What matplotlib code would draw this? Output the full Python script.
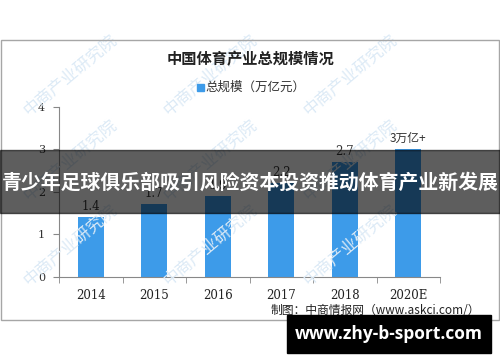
import matplotlib
matplotlib.use("Agg")
import matplotlib.pyplot as plt
from matplotlib.patches import Rectangle

plt.rcParams['font.family'] = ['Noto Sans CJK SC', 'DejaVu Sans']

years = ['2014', '2015', '2016', '2017', '2018', '2020E']
scale = [1.4, 1.7, 1.9, 2.2, 2.7, 3.0]
labels = ['1.4', '1.7', '1.9', '2.2', '2.7', '3万亿+']
yticks = [0, 1, 2, 3, 4]

title = "中国体育产业总规模情况"
legendName = "总规模（万亿元）"
source = "制图：中商情报网（www.askci.com/）"
banner = "青少年足球俱乐部吸引风险资本投资推动体育产业新发展"
site = "www.zhy-b-sport.com"
mark = "中商产业研究院"

W, H = 500, 362
fig = plt.figure(figsize=(W/100, H/100), dpi=100)
fig.patch.set_facecolor('white')

def fx(px):
    return px/W
def fy(py):
    return 1-py/H

# outer frame of the chart picture
fig.patches.append(Rectangle((fx(1), fy(320)), fx(498), (320-40)/H, transform=fig.transFigure,
                             fill=False, edgecolor='#a6a6a6', linewidth=1))

# watermarks (faint)
for wy in [75, 160, 245]:
    for wx in [20, 160, 300]:
        fig.text(fx(wx), fy(wy), mark, rotation=40, color='#dceaf6', fontsize=12,
                 ha='left', va='center', zorder=0)

ax = fig.add_axes([fx(59), fy(276.7), fx(381), 170/H])
ax.set_facecolor('none')
x = range(len(years))
ax.bar(x, scale, width=0.41, color='#3d9be9', zorder=2)
ax.set_xlim(-0.5, len(years)-0.5)
ax.set_ylim(0, 4)
ax.set_yticks(yticks)
ax.set_yticklabels([str(i) for i in yticks], family='DejaVu Serif', fontsize=8, color='#333333')
ax.set_xticks(list(x))
ax.set_xticklabels(years, family='DejaVu Serif', fontsize=8.5, color='#222222')
ax.set_xticks([i-0.5 for i in range(len(years)+1)], minor=True)
ax.tick_params(axis='x', which='major', length=0, pad=9)
ax.tick_params(axis='x', which='minor', length=4, color='#888888')
ax.tick_params(axis='y', length=4, color='#888888', pad=6)
for s in ['top', 'right']:
    ax.spines[s].set_visible(False)
for s in ['left', 'bottom']:
    ax.spines[s].set_color('#888888')

for i in range(len(years)):
    fam = 'DejaVu Serif' if i < len(years)-1 else ['Noto Sans CJK SC', 'DejaVu Sans']
    ax.text(i, scale[i]+0.1, labels[i], ha='center', va='bottom', fontsize=8.5,
            family=fam, color='#333333')

fig.text(fx(251), fy(59), title, ha='center', va='center', fontsize=11, fontweight='bold', color='#222222')
fig.patches.append(Rectangle((fx(197), fy(90.5)), fx(6.5), 6.5/H, transform=fig.transFigure,
                             color='#3d9be9'))
fig.text(fx(205), fy(87), legendName, ha='left', va='center', fontsize=9, color='#333333')
fig.text(fx(480), fy(310), source, ha='right', va='center', fontsize=8.5, color='#222222')

# dark banner with headline
fig.patches.append(Rectangle((0, fy(212.7)), 1, (212.7-150)/H, transform=fig.transFigure,
                             color='black', alpha=0.63, zorder=5))
fig.text(0.5, fy(182), banner, ha='center', va='center', fontsize=14.3, fontweight='bold',
         color='white', zorder=6)

# site box
fig.patches.append(Rectangle((fx(287), fy(352.7)), fx(204), (352.7-315)/H, transform=fig.transFigure,
                             color='black', zorder=5))
fig.text(fx(389), fy(334), site, ha='center', va='center', fontsize=12.5, fontweight='bold',
         color='white', zorder=6, family=['Open Sans', 'DejaVu Sans'])

fig.savefig('out.png', dpi=100)
